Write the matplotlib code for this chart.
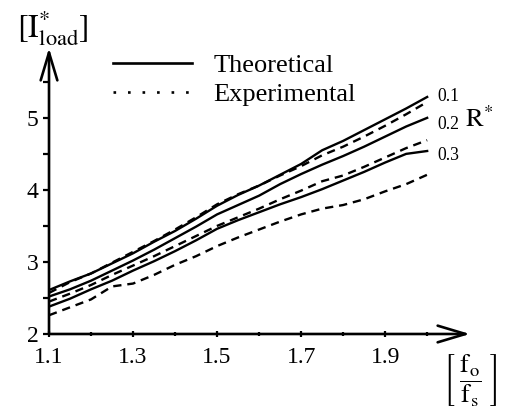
import matplotlib
matplotlib.use("Agg")
import matplotlib.pyplot as plt
from matplotlib.lines import Line2D
from matplotlib.ticker import FixedLocator

plt.rcParams['font.family'] = ['Liberation Serif', 'DejaVu Serif']
plt.rcParams['mathtext.fontset'] = 'stix'

# frequency ratio f_o / f_s
ratio = [1.10, 1.15, 1.20, 1.25, 1.30, 1.35, 1.40, 1.45, 1.50, 1.55,
         1.60, 1.65, 1.70, 1.75, 1.80, 1.85, 1.90, 1.95, 2.00]

# theoretical curves, one per R*
theo_01 = [2.61, 2.73, 2.84, 2.98, 3.12, 3.28, 3.43, 3.60, 3.78, 3.93,
           4.06, 4.21, 4.36, 4.55, 4.68, 4.83, 4.98, 5.13, 5.29]
theo_02 = [2.52, 2.62, 2.74, 2.88, 3.02, 3.17, 3.33, 3.49, 3.66, 3.79,
           3.92, 4.08, 4.22, 4.35, 4.47, 4.60, 4.74, 4.88, 5.00]
theo_03 = [2.38, 2.49, 2.62, 2.74, 2.88, 3.01, 3.15, 3.30, 3.46, 3.58,
           3.69, 3.80, 3.90, 4.01, 4.13, 4.25, 4.38, 4.50, 4.54]

# experimental curves
exp_01 = [2.57, 2.72, 2.84, 2.99, 3.14, 3.29, 3.45, 3.62, 3.80, 3.94,
          4.06, 4.20, 4.33, 4.48, 4.60, 4.74, 4.89, 5.05, 5.22]
exp_02 = [2.45, 2.56, 2.68, 2.82, 2.95, 3.08, 3.22, 3.36, 3.50, 3.62,
          3.74, 3.87, 3.99, 4.12, 4.20, 4.32, 4.45, 4.58, 4.69]
exp_03 = [2.26, 2.37, 2.48, 2.66, 2.70, 2.82, 2.96, 3.08, 3.22, 3.34,
          3.45, 3.56, 3.66, 3.74, 3.79, 3.87, 3.98, 4.08, 4.21]

r_labels = ["0.1", "0.2", "0.3"]
x_ticks = [1.1, 1.3, 1.5, 1.7, 1.9]
y_ticks = [2, 3, 4, 5]

fig = plt.figure(figsize=(5.1, 4.09), dpi=100)
ax = fig.add_axes([0.0961, 0.1834, 0.8255, 0.6993])

dash = (0, (3.5, 2.5))
for t in [theo_01, theo_02, theo_03]:
    ax.plot(ratio, t, color='k', lw=1.7)
for e in [exp_01, exp_02, exp_03]:
    ax.plot(ratio, e, color='k', lw=1.7, linestyle=dash)

# R* labels next to the curve ends (nudged apart like the original)
ends = [theo_01[-1], theo_02[-1], theo_03[-1]]
nudge = [0, -5, -3]
for lab, yv, dy in zip(r_labels, ends, nudge):
    ax.annotate(lab, xy=(ratio[-1], yv), xytext=(7, dy), textcoords='offset points',
                ha='left', va='center', fontsize=12.7, annotation_clip=False)
fig.text(0.94, 0.71, r'$\mathrm{R}^{*}$', fontsize=19, ha='center', va='center')

ax.set_xlim(1.1, 2.102)
ax.set_ylim(2, 5.97)
for s in ax.spines.values():
    s.set_visible(False)

ax.xaxis.set_major_locator(FixedLocator(x_ticks))
ax.xaxis.set_minor_locator(FixedLocator([1.2, 1.4, 1.6, 1.8, 2.0]))
ax.yaxis.set_major_locator(FixedLocator(y_ticks))
ax.yaxis.set_minor_locator(FixedLocator([2.5, 3.5, 4.5, 5.5]))
ax.set_xticklabels([str(v) for v in x_ticks])
ax.set_yticklabels([str(v) for v in y_ticks])
ax.tick_params(axis='x', which='major', direction='inout', length=5, width=1.6,
               labelsize=17, pad=7)
ax.tick_params(axis='x', which='minor', direction='inout', length=3.5, width=1.6)
ax.tick_params(axis='y', which='both', direction='out', length=4.5, width=1.6,
               labelsize=17, pad=3)

# axes drawn as arrows
arrow = dict(arrowstyle='->,head_length=1.0,head_width=0.3', lw=1.9, color='k',
             mutation_scale=20, shrinkA=0, shrinkB=0)
ax.annotate('', xy=(1, 0), xytext=(0, 0), xycoords='axes fraction',
            arrowprops=arrow, annotation_clip=False)
ax.annotate('', xy=(0, 1), xytext=(0, 0), xycoords='axes fraction',
            arrowprops=arrow, annotation_clip=False)

fig.text(0.103, 0.93, r'$[\mathrm{I}^{*}_{\mathrm{load}}]$', fontsize=23,
         ha='center', va='center')
fig.text(0.922, 0.07, r'$\left[\ \dfrac{\mathrm{f_o}}{\mathrm{f_s}}\ \right]$',
         fontsize=19, ha='center', va='center')

handles = [Line2D([], [], color='k', lw=1.9),
           Line2D([], [], color='k', lw=1.9, linestyle=(0, (1, 4.5)))]
ax.legend(handles, ["Theoretical", "Experimental"], loc='upper left',
          bbox_to_anchor=(0.222, 0.868), bbox_transform=fig.transFigure,
          frameon=False, fontsize=19, handlelength=3.0, handletextpad=0.8,
          labelspacing=0.2, borderpad=0, borderaxespad=0)

fig.savefig("out.png", dpi=100)
